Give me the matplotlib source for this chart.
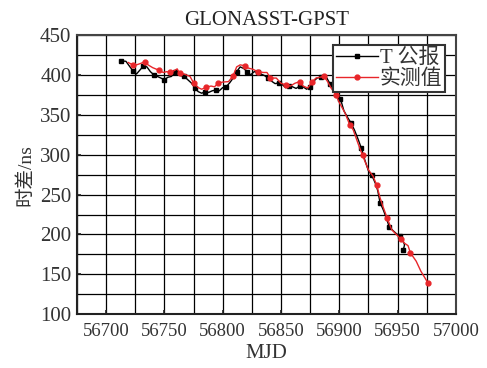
import matplotlib
matplotlib.use("Agg")
import matplotlib.pyplot as plt
from matplotlib.ticker import MultipleLocator

plt.rcParams['font.family'] = ['Liberation Serif', 'Noto Sans CJK SC']

black_mjd = [56713, 56717, 56720, 56723, 56726, 56729, 56732, 56735, 56738, 56741,
             56744, 56747, 56750, 56753, 56756, 56759, 56761, 56764, 56767, 56770,
             56773, 56776, 56779, 56782, 56785, 56788, 56791, 56794, 56797, 56800,
             56803, 56806, 56809, 56812, 56815, 56818, 56821, 56824, 56827, 56830,
             56833, 56836, 56839, 56842, 56845, 56848, 56851, 56854, 56857, 56860,
             56863, 56866, 56869, 56872, 56875, 56878, 56881, 56884, 56887, 56889,
             56892, 56895, 56898, 56901, 56904, 56907, 56910, 56913, 56916, 56919,
             56922, 56925, 56928, 56931, 56933, 56935, 56938, 56941, 56943, 56946,
             56949, 56952, 56954, 56956, 56955]
black_val = [417.5, 417, 411, 405, 401, 406, 411, 410, 404, 400,
             398, 396, 394, 397, 398, 403, 405, 399, 398, 394,
             390, 384, 379, 377, 379, 378, 380, 381, 380, 384,
             385, 390, 396, 404, 410, 408, 404, 400, 404, 403,
             401, 399, 396, 392, 389, 390, 388, 384, 386, 385,
             383, 386, 385, 382, 385, 392, 396, 397, 400, 397,
             389, 381, 377, 370, 355, 347, 340, 331, 320, 308,
             293, 280, 274, 264, 255, 240, 230, 218, 209, 205,
             201, 198, 195, 187, 181]

red_mjd = [56719, 56723, 56726, 56730, 56733, 56736, 56740, 56745, 56749, 56752,
           56755, 56758, 56761, 56763, 56767, 56772, 56775, 56779, 56782, 56786,
           56790, 56793, 56796, 56800, 56805, 56809, 56812, 56815, 56819, 56822,
           56826, 56830, 56835, 56838, 56841, 56846, 56850, 56854, 56858, 56862,
           56866, 56869, 56873, 56877, 56880, 56883, 56887, 56890, 56893, 56897,
           56900, 56905, 56909, 56912, 56916, 56920, 56925, 56929, 56932, 56935,
           56938, 56941, 56945, 56949, 56953, 56956, 56959, 56961, 56966, 56970,
           56976]
red_val = [415.5, 412.5, 412.5, 414.5, 416.5, 412.5, 409, 406, 403, 404,
           403, 405, 407.5, 402, 401, 398, 390, 384, 382, 384.5,
           386, 385, 389.5, 391, 391.5, 399, 410, 412.5, 411.5, 408.5,
           407, 404, 403, 403, 396, 396, 389.5, 387.5, 386, 389.5,
           391.5, 386, 383.5, 391.5, 396, 397, 398, 391.5, 383.5, 375,
           365.5, 352, 337.5, 331, 314.5, 299, 281, 273, 262.5, 246,
           233, 221, 206, 200, 194, 189, 186, 177, 166.5, 154,
           139.5]

fig = plt.figure(figsize=(4.87, 3.68), dpi=100)
ax = fig.add_axes([0.158, 0.146, 0.778, 0.759])

ax.plot(black_mjd, black_val, color='black', lw=1.0, marker='s', ms=3.5,
        markevery=3, label='T 公报', zorder=3)
ax.plot(red_mjd, red_val, color='#e8262a', lw=1.0, marker='o', ms=3.5,
        markevery=(1, 3), label='实测值', zorder=4)

ax.set_xlim(56675, 57000)
ax.set_ylim(100, 450)
ax.xaxis.set_major_locator(MultipleLocator(50))
ax.xaxis.set_minor_locator(MultipleLocator(25))
ax.yaxis.set_major_locator(MultipleLocator(50))
ax.yaxis.set_minor_locator(MultipleLocator(25))
ax.grid(True, which='both', color='black', lw=0.9)
ax.tick_params(which='major', direction='in', length=3, width=1.2,
               colors='#222222', labelcolor='#333333')
ax.tick_params(which='minor', length=0)
ax.tick_params(axis='y', labelsize=15, pad=4)
ax.tick_params(axis='x', labelsize=13.5, pad=6)
for s in ax.spines.values():
    s.set_linewidth(1.5)
    s.set_color('#444444')
ax.spines['left'].set_color('#222222')
ax.spines['bottom'].set_color('#222222')

ax.set_title('GLONASST-GPST', fontsize=15, pad=7, color='#222222')
ax.set_xlabel('MJD', fontsize=15, labelpad=3, color='#333333')
ax.set_ylabel('时差/ns', fontsize=14, labelpad=4, color='#333333')

leg = ax.legend(loc='upper right', fontsize=15, numpoints=1, handlelength=2.0,
                handletextpad=0.1, borderpad=0.15, labelspacing=0.05,
                fancybox=False, framealpha=1, borderaxespad=0.5)
leg.get_frame().set_edgecolor('#333333')
leg.get_frame().set_linewidth(1.5)
for t in leg.get_texts():
    t.set_color('#333333')

fig.savefig('out.png', dpi=100)
